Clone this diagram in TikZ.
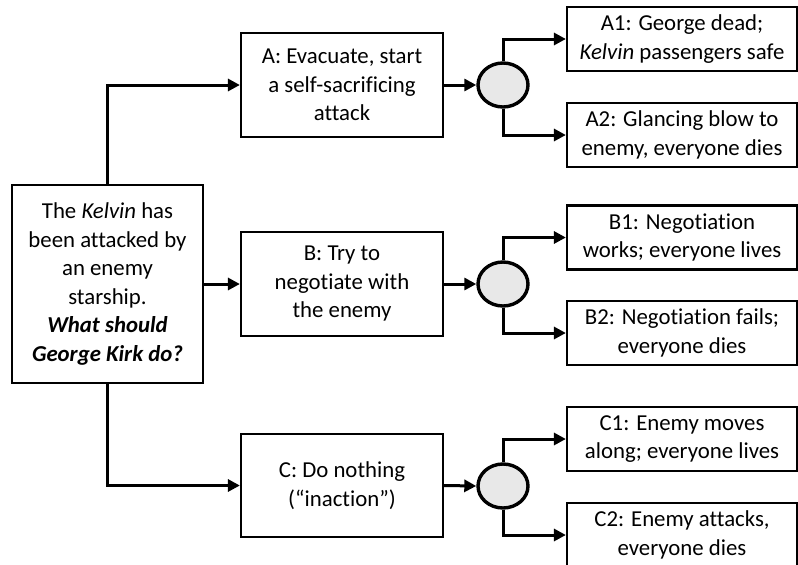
\documentclass[tikz,border=0pt]{standalone}
\usepackage{fontspec}
\setmainfont[Ligatures=NoCommon]{Carlito}
\usetikzlibrary{arrows.meta,shapes.geometric}
\begin{document}
\begin{tikzpicture}[x=1pt,y=-1pt,
  every node/.style={font=\fontsize{22.8}{28.5}\selectfont, align=center, inner sep=0pt},
  box/.style={draw, line width=2.2pt, rectangle, minimum width=#1},
  box/.default=202,
  outbox/.style={draw, line width=2.2pt, rectangle, minimum width=230, minimum height=64},
  chance/.style={draw, line width=3.4pt, ellipse, fill=black!9, minimum width=50, minimum height=44},
  conn/.style={line width=3pt, -{Triangle[length=12pt,width=12pt]}}
]
\useasboundingbox (0,0) rectangle (798,565);
\clip (0,0) rectangle (798,565);

\node[box=191, minimum height=198] (main) at (107.5,284)
  {The \textit{Kelvin} has\\been attacked by\\an enemy\\starship.\\\textbf{\textit{What should}}\\\textbf{\textit{George Kirk do?}}};

\node[box, minimum height=104] (A) at (342,85) {A: Evacuate, start\\a self-sacrificing\\attack};
\node[box, minimum height=104] (B) at (342,284) {B: Try to\\negotiate with\\the enemy};
\node[box, minimum height=103] (C) at (342,485.5) {C: Do nothing\\(“inaction”)};

\node[chance] (ca) at (503,85) {};
\node[chance] (cb) at (503,284) {};
\node[chance] (cc) at (503,486) {};

\node[outbox] (A1) at (682,39) {A1: George dead;\\\textit{Kelvin} passengers safe};
\node[outbox] (A2) at (682,135) {A2: Glancing blow to\\enemy, everyone dies};
\node[outbox] (B1) at (682,237.5) {B1: Negotiation\\works; everyone lives};
\node[outbox] (B2) at (682,333) {B2: Negotiation fails;\\everyone dies};
\node[outbox] (C1) at (682,439) {C1: Enemy moves\\along; everyone lives};
\node[outbox] (C2) at (682,535) {C2: Enemy attacks,\\everyone dies};

\draw[conn] (main.north) |- (A.west);
\draw[conn] (main.east) -- (B.west);
\draw[conn] (main.south) |- (C.west);

\draw[conn] (A.east) -- (ca.west);
\draw[conn] (B.east) -- (cb.west);
\draw[conn] (C.east) -- (cc.west);

\draw[conn] (ca.north) |- (A1.west);
\draw[conn] (ca.south) |- (A2.west);
\draw[conn] (cb.north) |- (B1.west);
\draw[conn] (cb.south) |- (B2.west);
\draw[conn] (cc.north) |- (C1.west);
\draw[conn] (cc.south) |- (C2.west);
\end{tikzpicture}
\end{document}
